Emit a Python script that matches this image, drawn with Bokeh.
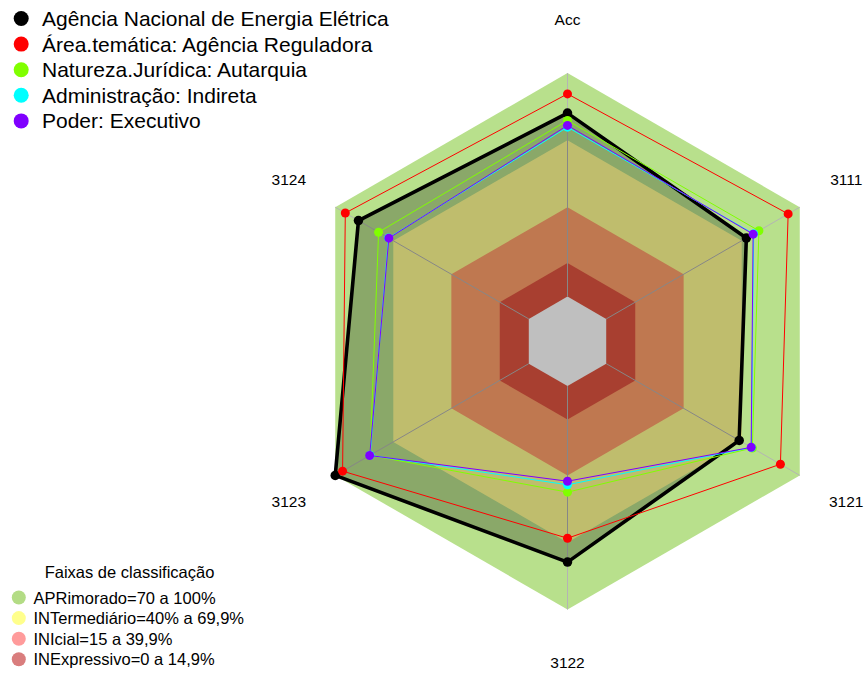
import numpy as np
from bokeh.plotting import figure
from bokeh.models import Range1d
from bokeh.core.properties import value
from bokeh.embed import file_html
from bokeh.resources import INLINE

# ---------------- data ----------------
axis_labels = ["Acc", "3111", "3121", "3122", "3123", "3124"]

series_names = [
    "Agência Nacional de Energia Elétrica",
    "Área.temática: Agência Reguladora",
    "Natureza.Jurídica: Autarquia",
    "Administração: Indireta",
    "Poder: Executivo",
]
aneel = [82.1, 72.4, 68.7, 78.8, 100.0, 88.0]
area_tematica = [90.7, 94.0, 90.0, 68.1, 96.2, 94.8]
natureza_juridica = [78.8, 78.9, 75.5, 47.5, 82.0, 77.6]
administracao = [75.8, 76.2, 75.0, 44.2, 82.0, 72.5]
poder = [76.6, 75.9, 74.9, 42.6, 82.2, 72.3]
series_values = [aneel, area_tematica, natureza_juridica, administracao, poder]

band_title = "Faixas de classificação"
band_names = [
    "APRimorado=70 a 100%",
    "INTermediário=40% a 69,9%",
    "INIcial=15 a 39,9%",
    "INExpressivo=0 a 14,9%",
]
band_upper = [100, 70, 40, 15]

# ---------------- styles ----------------
series_colors = ["#000000", "#ff0000", "#80ff00", "#00ffff", "#8000ff"]
series_widths = [3.6, 1, 1, 1, 1]
band_fill = ["#b8e08c", "#fffd92", "#ffa06b", "#e05540"]
band_legend = ["#b3dc85", "#ffff8c", "#ff9b9b", "#d97d7d"]
FONT = value("Liberation Sans")

W, H = 867, 673
CX, CY, R = 567.0, 340.8, 268.2   # centre / radius in figure pixels
GAP = 1.0 / 6.0                   # fmsb centre gap (seg=5)

def rad(v):
    return GAP + (1 - GAP) * np.asarray(v, dtype=float) / 100.0

n = len(axis_labels)
theta = np.deg2rad(90 - 60 * np.arange(n))

def poly(vals_r):
    r = np.asarray(vals_r, dtype=float)
    return r * np.cos(theta), r * np.sin(theta)

def px(x, y):
    """figure pixel -> data coordinates"""
    return (x - CX) / R, (CY - y) / R

p = figure(width=W, height=H, output_backend="svg", toolbar_location=None,
           x_range=Range1d(-CX / R, (W - CX) / R),
           y_range=Range1d(-(H - CY) / R, CY / R),
           x_axis_type=None, y_axis_type=None, min_border=0)
p.outline_line_color = None
p.background_fill_color = "white"
p.border_fill_color = "white"

# bands
for up, col in zip(band_upper, band_fill):
    bx, by = poly(np.full(n, rad(up)))
    p.patch(list(bx), list(by), fill_color=col, line_color=None)
gx, gy = poly(np.full(n, GAP))
p.patch(list(gx), list(gy), fill_color="white", line_color=None)

# spokes
for t in theta:
    p.line([GAP * np.cos(t), np.cos(t)], [GAP * np.sin(t), np.sin(t)],
           line_color="#b4b4b4", line_width=1)

# series
for i, (vals, col, lw) in enumerate(zip(series_values, series_colors, series_widths)):
    sx, sy = poly(rad(vals))
    if i == 0:
        p.patch(list(sx), list(sy), fill_color="black", fill_alpha=0.25, line_color=None)
    p.line(list(sx) + [sx[0]], list(sy) + [sy[0]], line_color=col, line_width=lw,
           line_join="round")
    p.scatter(list(sx), list(sy), size=9 if i else 9.5, fill_color=col, line_color=None)

# axis labels
lx, ly = poly(np.full(n, 1.2))
p.text(list(lx), list(ly), text=axis_labels, text_font=FONT, text_font_size="15.5px",
       text_align="center", text_baseline="middle", text_color="black")

# legend 1 (series)
for k, (name, col) in enumerate(zip(series_names, series_colors)):
    yy = 18 + 25.6 * k
    dx, dy = px(20.7, yy)
    tx, ty = px(41.5, yy)
    p.scatter([dx], [dy], size=15, fill_color=col, line_color=None)
    p.text([tx], [ty], text=[name], text_font=FONT, text_font_size="21px",
           text_align="left", text_baseline="middle", text_color="black")

# legend 2 (bands)
tx, ty = px(129, 571)
p.text([tx], [ty], text=[band_title], text_font=FONT, text_font_size="16.5px",
       text_align="center", text_baseline="middle", text_color="black")
for k, (name, col) in enumerate(zip(band_names, band_legend)):
    yy = 597 + 20.6 * k
    dx, dy = px(18.3, yy)
    tx, ty = px(33, yy)
    p.scatter([dx], [dy], size=14, fill_color=col, line_color=None)
    p.text([tx], [ty], text=[name], text_font=FONT, text_font_size="16.5px",
           text_align="left", text_baseline="middle", text_color="black")

p.xgrid.visible = False
p.ygrid.visible = False

open("out.html", "w").write(file_html(p, INLINE))
